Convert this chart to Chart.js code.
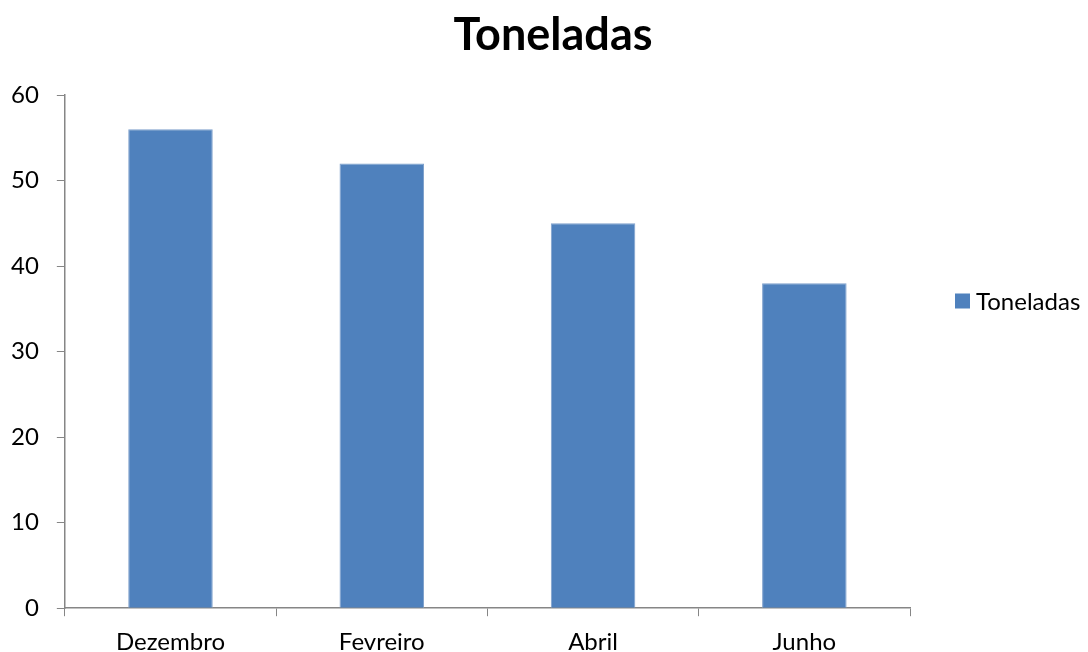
<!DOCTYPE html>
<html>
<head>
<meta charset="utf-8">
<script src="https://cdn.jsdelivr.net/npm/chart.js@4"></script>
<style>
html,body{margin:0;padding:0;background:#fff;}
#wrap{width:1088px;height:652px;position:relative;}
</style>
</head>
<body>
<div id="wrap"><canvas id="c" width="1088" height="652"></canvas></div>
<script>
const categories = ["Dezembro", "Fevreiro", "Abril", "Junho"];
const seriesName = "Toneladas";
const values = [56, 52, 45, 38];
const chartTitle = "Toneladas";

const FONT = "Lato, 'Open Sans', sans-serif";
const axisColor = "#868686";
const barColor = "#4F81BD";

// Title and legend drawn as canvas text (title centred on the whole picture, legend at the right)
const decorations = {
  id: "decorations",
  afterDraw(chart) {
    const ctx = chart.ctx;
    const ds = chart.data.datasets[0];
    const cy = 301;
    ctx.save();
    ctx.fillStyle = "#000";
    ctx.font = "bold 45px " + FONT;
    ctx.textAlign = "center";
    ctx.textBaseline = "middle";
    ctx.fillText(chartTitle, chart.width / 2 + 9, 35);

    ctx.fillStyle = ds.backgroundColor;
    ctx.fillRect(955, cy - 7.5, 15, 15);
    ctx.fillStyle = "#000";
    ctx.font = "24px " + FONT;
    ctx.textBaseline = "middle";
    ctx.textAlign = "left";
    ctx.fillText(ds.label, 976, cy + 1);
    ctx.restore();
  }
};

new Chart(document.getElementById("c"), {
  type: "bar",
  data: {
    labels: categories,
    datasets: [{
      label: seriesName,
      data: values,
      backgroundColor: barColor,
      borderColor: "#7EA0CC",
      borderWidth: 1,
      categoryPercentage: 1.0,
      barPercentage: 0.4
    }]
  },
  options: {
    responsive: false,
    animation: false,
    layout: { padding: { left: -7, right: 178, top: 95, bottom: -17 } },
    plugins: {
      title: { display: false },
      legend: { display: false },
      tooltip: { enabled: false }
    },
    scales: {
      x: {
        offset: true,
        grid: { display: true, drawOnChartArea: false, offset: true, tickLength: 8, color: axisColor },
        border: { display: true, color: axisColor, width: 1.5 },
        ticks: { color: "#000", font: { family: FONT, size: 24 }, padding: 12 }
      },
      y: {
        min: 0,
        max: 60,
        ticks: { stepSize: 10, color: "#000", font: { family: FONT, size: 24 }, padding: 18 },
        grid: { display: true, drawOnChartArea: false, tickLength: 8, color: axisColor },
        border: { display: true, color: axisColor, width: 1.5 }
      }
    }
  },
  plugins: [decorations]
});
</script>
</body>
</html>
